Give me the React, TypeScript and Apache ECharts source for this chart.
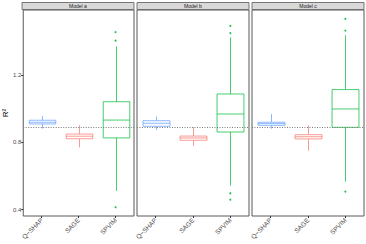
import React, { useEffect, useRef } from "react";
import * as echarts from "echarts";

const panels = ["Model a", "Model b", "Model c"];
const methods = ["Q−SHAP", "SAGE", "SPVIM"];
const colors = ["#619CFF", "#F8766D", "#00BA38"];
const yTicks = [0.4, 0.8, 1.2];
const refLine = 0.887;

// [min, Q1, median, Q3, max] per method, per panel
const boxesA = [
  [0.881, 0.909, 0.919, 0.931, 0.956],
  [0.77, 0.821, 0.836, 0.849, 0.901],
  [0.511, 0.826, 0.932, 1.041, 1.37],
];
const boxesB = [
  [0.873, 0.895, 0.913, 0.928, 0.952],
  [0.778, 0.812, 0.826, 0.837, 0.889],
  [0.542, 0.861, 0.968, 1.087, 1.424],
];
const boxesC = [
  [0.881, 0.901, 0.911, 0.919, 0.968],
  [0.75, 0.82, 0.833, 0.845, 0.901],
  [0.566, 0.889, 0.998, 1.113, 1.436],
];
// outliers: [methodIndex, value]
const outliersA = [[2, 1.454], [2, 1.404], [2, 0.414]];
const outliersB = [[2, 1.491], [2, 1.448], [2, 0.497], [2, 0.459]];
const outliersC = [[2, 1.533], [2, 1.463], [2, 0.507]];

const allBoxes = [boxesA, boxesB, boxesC];
const allOutliers = [outliersA, outliersB, outliersC];

export default function App() {
  const ref = useRef<HTMLDivElement>(null);
  useEffect(() => {
    if (!ref.current) return;
    const chart = echarts.init(ref.current, null, { renderer: "svg" });
    const font = "Liberation Sans";
    const panelLeft = 22;
    const panelW = 112;
    const gap = 3;
    const top = 10;
    const height = 206;
    const grids: any[] = [];
    const xAxes: any[] = [];
    const yAxes: any[] = [];
    const series: any[] = [];
    const graphics: any[] = [];

    const renderBox = (params: any, api: any) => {
      const idx = api.value(0);
      const color = colors[idx];
      const bw = api.size([1, 0])[0] * 0.72;
      const pMin = api.coord([idx, api.value(1)]);
      const pQ1 = api.coord([idx, api.value(2)]);
      const pMed = api.coord([idx, api.value(3)]);
      const pQ3 = api.coord([idx, api.value(4)]);
      const pMax = api.coord([idx, api.value(5)]);
      const cx = Math.round(pMed[0]) + 0.5;
      const style = { stroke: color, lineWidth: 1, fill: "none", opacity: 0.72 };
      return {
        type: "group",
        children: [
          { type: "line", shape: { x1: cx, y1: pMin[1], x2: cx, y2: pQ1[1] }, style },
          { type: "line", shape: { x1: cx, y1: pQ3[1], x2: cx, y2: pMax[1] }, style },
          {
            type: "rect",
            shape: { x: cx - bw / 2, y: pQ3[1], width: bw, height: pQ1[1] - pQ3[1] },
            style: { ...style, fill: "#fff" },
          },
          { type: "line", shape: { x1: cx - bw / 2, y1: pMed[1], x2: cx + bw / 2, y2: pMed[1] }, style },
        ],
      };
    };

    panels.forEach((p, i) => {
      const left = panelLeft + i * (panelW + gap);
      grids.push({
        left,
        top,
        width: panelW,
        height,
        show: true,
        borderColor: "#595959",
        borderWidth: 1,
        backgroundColor: "#fff",
      });
      xAxes.push({
        type: "category",
        gridIndex: i,
        data: methods,
        axisLine: { show: false },
        axisTick: { show: true, alignWithLabel: true, length: 2, lineStyle: { color: "#333" } },
        axisLabel: { rotate: 45, fontSize: 6.5, color: "#4d4d4d", margin: 3, fontFamily: font, interval: 0 },
        splitLine: { show: false },
      });
      yAxes.push({
        type: "value",
        gridIndex: i,
        min: 0.362,
        max: 1.586,
        name: i === 0 ? "R²" : "",
        nameLocation: "middle",
        nameGap: 10,
        nameTextStyle: { fontSize: 8, color: "#000", fontFamily: font },
        axisLine: { show: false },
        axisTick: { show: i === 0, length: 2, customValues: yTicks, lineStyle: { color: "#333" } },
        axisLabel: { show: i === 0, fontSize: 6, color: "#4d4d4d", margin: 2, customValues: yTicks, fontFamily: font, formatter: (v: number) => v.toFixed(1) },
        splitLine: { show: false },
      });
      series.push({
        type: "custom",
        xAxisIndex: i,
        yAxisIndex: i,
        renderItem: renderBox,
        encode: { x: 0, y: [1, 2, 3, 4, 5] },
        data: allBoxes[i].map((b, j) => [j, ...b]),
        z: 2,
      });
      series.push({
        type: "line",
        xAxisIndex: i,
        yAxisIndex: i,
        data: [],
        markLine: {
          silent: true,
          symbol: "none",
          label: { show: false },
          lineStyle: { color: "#7a7a7a", type: [1, 1.5], width: 1 },
          data: [{ yAxis: refLine }],
        },
        z: 3,
      });
      series.push({
        type: "scatter",
        xAxisIndex: i,
        yAxisIndex: i,
        symbolSize: 2,
        data: allOutliers[i].map(([m, v]) => ({
          value: [m, v],
          itemStyle: { color: colors[m], opacity: 0.85 },
        })),
        z: 4,
      });
      graphics.push({
        type: "rect",
        shape: { x: left, y: 2.5, width: panelW, height: 7 },
        style: { fill: "#d9d9d9", stroke: "#595959", lineWidth: 0.8 },
      });
      graphics.push({
        type: "text",
        x: left + panelW / 2,
        y: 6,
        style: { text: p, fontSize: 5, fill: "#1a1a1a", fontFamily: font, align: "center", verticalAlign: "middle" },
      });
    });
    chart.setOption({
      animation: false,
      backgroundColor: "#fff",
      grid: grids,
      xAxis: xAxes,
      yAxis: yAxes,
      series,
      graphic: graphics,
    });
    return () => chart.dispose();
  }, []);
  return <div ref={ref} style={{ position: "fixed", left: 0, top: 0, width: 366, height: 244 }} />;
}
